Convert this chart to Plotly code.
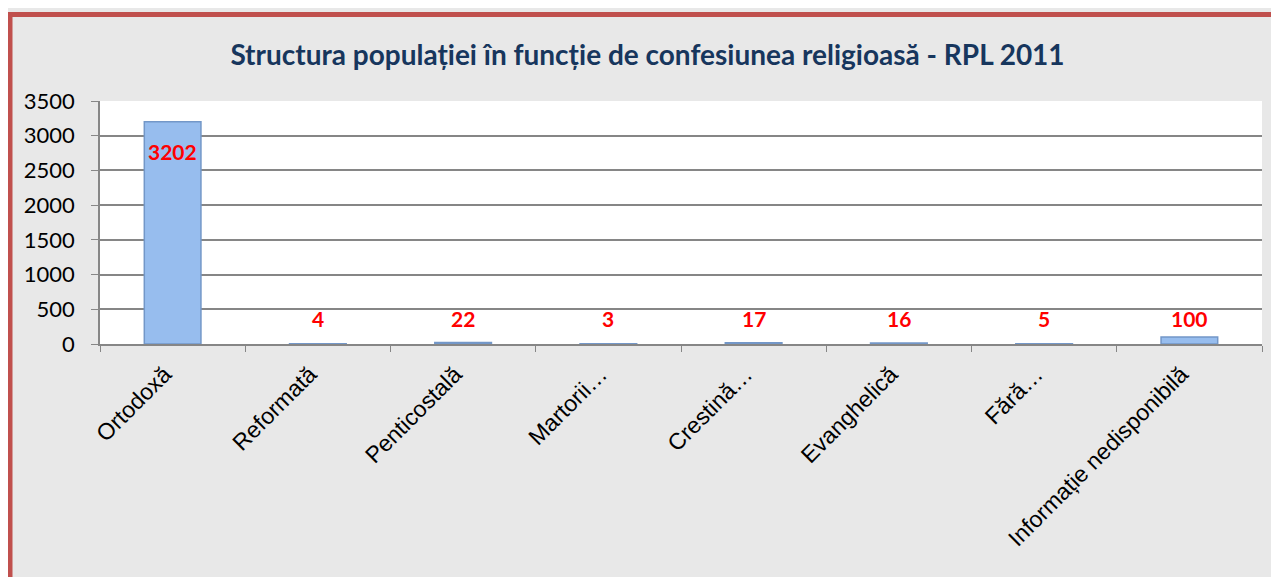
import plotly.graph_objects as go

categories = ["Ortodoxă", "Reformată", "Penticostală", "Martorii…", "Crestină…",
              "Evanghelică", "Fără…", "Informație nedisponibilă"]
values = [3202, 4, 22, 3, 17, 16, 5, 100]
title_text = "Structura populației în funcție de confesiunea religioasă - RPL 2011"
y_ticks = [0, 500, 1000, 1500, 2000, 2500, 3000, 3500]

W, H = 1279, 577
ML, MR, MT, MB = 92, 25, 93, 241
PW, PH = W - ML - MR, H - MT - MB

fig = go.Figure()
fig.add_trace(go.Bar(
    x=categories, y=values,
    marker=dict(color="#97bdee", line=dict(color="#7397c8", width=1.5)),
    width=0.39, hoverinfo="x+y",
))

annotations = []
for c, v in zip(categories, values):
    if v > 1000:
        annotations.append(dict(x=c, y=v, xref="x", yref="y", text=f"<b>{v}</b>",
                                showarrow=False, yanchor="top", yshift=-15,
                                font=dict(family="Lato", size=21, color="#ff0000")))
    else:
        annotations.append(dict(x=c, y=0, xref="x", yref="y", text=f"<b>{v}</b>",
                                showarrow=False, yanchor="bottom", yshift=11,
                                font=dict(family="Lato", size=21, color="#ff0000")))

fig.update_layout(
    width=W, height=H,
    margin=dict(l=ML, r=MR, t=MT, b=MB),
    paper_bgcolor="#e8e8e8",
    plot_bgcolor="#ffffff",
    showlegend=False,
    bargap=0.61,
    title=dict(text=f"<b>{title_text}</b>", x=0.5, xanchor="center",
               y=1 - 47 / H, yanchor="middle",
               font=dict(family="Lato", size=28, color="#17365d")),
    annotations=annotations,
    shapes=[
        dict(type="rect", xref="paper", yref="paper",
             x0=(2 - ML) / PW, x1=1.2, y0=-1.5, y1=1 + (MT - 6.5) / PH,
             line=dict(color="#c0504d", width=5), layer="below"),
    ],
    xaxis=dict(
        type="category", tickson="boundaries", ticks="outside", ticklen=6,
        tickcolor="#868686", showline=True, linecolor="#868686", linewidth=1.5,
        tickangle=-45, showgrid=False,
        ticklabelshift=-8, ticklabelstandoff=6,
        tickfont=dict(family="Liberation Sans", size=23, color="#000000"),
    ),
    yaxis=dict(
        range=[0, 3500], tickvals=y_ticks, ticks="outside", ticklen=7,
        tickcolor="#868686", showline=True, linecolor="#868686", linewidth=1.5,
        gridcolor="#868686", gridwidth=1.5, zeroline=False,
        ticklabelstandoff=12,
        tickfont=dict(family="Lato", size=22, color="#000000"),
    ),
)
fig.write_html("out.html")
